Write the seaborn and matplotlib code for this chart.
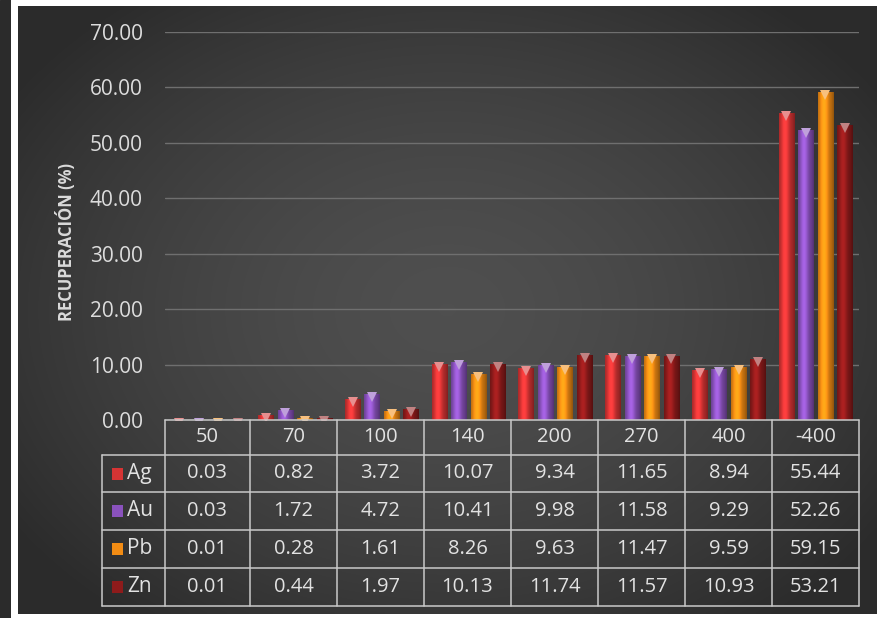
import numpy as np
import pandas as pd
import matplotlib
matplotlib.use("Agg")
import matplotlib.pyplot as plt
import matplotlib.colors as mcolors
import matplotlib.transforms as mtransforms
from matplotlib.lines import Line2D
from matplotlib.patches import Rectangle
import seaborn as sns

# ---------------- data ----------------
mallas = ["50", "70", "100", "140", "200", "270", "400", "-400"]
series_names = ["Ag", "Au", "Pb", "Zn"]
ag = [0.03, 0.82, 3.72, 10.07, 9.34, 11.65, 8.94, 55.44]
au = [0.03, 1.72, 4.72, 10.41, 9.98, 11.58, 9.29, 52.26]
pb = [0.01, 0.28, 1.61, 8.26, 9.63, 11.47, 9.59, 59.15]
zn = [0.01, 0.44, 1.97, 10.13, 11.74, 11.57, 10.93, 53.21]
y_ticks = [0, 10, 20, 30, 40, 50, 60, 70]
y_label = "RECUPERACIÓN (%)"

colors = ["#d63434", "#8a52bd", "#f28c14", "#8e1b1b"]
values = [ag, au, pb, zn]

df = pd.DataFrame({
    "malla": np.tile(mallas, len(series_names)),
    "serie": np.repeat(series_names, len(mallas)),
    "valor": np.concatenate(values),
})

sns.set_theme(style="dark")
plt.rcParams["font.family"] = ["Open Sans", "DejaVu Sans"]

W, H = 884, 618
fig = plt.figure(figsize=(W / 100, H / 100), dpi=100, facecolor="white")

# ---------------- background ----------------
strip = fig.add_axes([0, 0, 11 / W, 1])
strip.set_axis_off()
strip.add_patch(Rectangle((0, 0), 1, 1, transform=strip.transAxes, color="#2b2b2b"))

bg = fig.add_axes([18 / W, 4 / H, (877 - 18) / W, (612 - 4) / H])
bg.set_axis_off()
gx = np.linspace(-1, 1, 300)
gy = np.linspace(-1, 1, 200)
GX, GY = np.meshgrid(gx, gy)
r = np.sqrt((GX * 0.9) ** 2 + (GY * 0.85) ** 2)
lum = 0.31 - 0.12 * np.clip(r, 0, 1.4) ** 1.6
lum = np.clip(lum, 0.17, 0.31)
img = np.dstack([lum, lum, lum])
bg.imshow(img, aspect="auto", extent=[0, 1, 0, 1], interpolation="bilinear")
bg.set_xlim(0, 1)
bg.set_ylim(0, 1)

# ---------------- main axes ----------------
ax_l, ax_r, ax_t, ax_b = 165, 859, 32, 420
ax = fig.add_axes([ax_l / W, (H - ax_b) / H, (ax_r - ax_l) / W, (ax_b - ax_t) / H])
ax.set_facecolor("none")

sns.barplot(data=df, x="malla", y="valor", hue="serie", order=mallas,
            hue_order=series_names, palette=colors, width=0.9, gap=0.2,
            saturation=1, legend=False, ax=ax, zorder=3, linewidth=0)

# cylinder shading and caps
cap_shift = mtransforms.ScaledTranslation(0, -3 / 100, fig.dpi_scale_trans)
bars = [p for p in ax.patches if isinstance(p, Rectangle)]
for p in bars:
    x0 = p.get_x()
    w = p.get_width()
    h = p.get_height()
    if h <= 0:
        continue
    base = np.array(mcolors.to_rgb(p.get_facecolor()))
    t = np.linspace(0, 1, 64)
    f = 0.72 + 0.5 * np.exp(-((t - 0.38) / 0.28) ** 2)
    f = f - 0.12 * (t > 0.85) * (t - 0.85) / 0.15
    row = np.clip(base[None, :] * f[:, None], 0, 1)
    grad = row[None, :, :]
    im = ax.imshow(grad, aspect="auto", extent=[x0, x0 + w, 0, h],
                   interpolation="bilinear", zorder=3.5)
    im.set_clip_path(p)
    light = np.clip(base + (1 - base) * 0.45, 0, 1)
    ax.plot([x0 + w / 2], [h], marker="v", markersize=7.5, color=light,
            markeredgewidth=0, zorder=4, clip_on=True,
            transform=ax.transData + cap_shift)

ax.set_xlim(-0.5, len(mallas) - 0.5)
ax.set_ylim(0, 70)
ax.set_yticks(y_ticks)
ax.set_yticklabels([f"{v:.2f}" for v in y_ticks], color="#dcdcdc", fontsize=15)
ax.tick_params(axis="y", length=0, pad=16)
ax.set_xticks([])
ax.set_xlabel("")
ax.set_ylabel(y_label, color="#dadada", fontsize=12, fontweight="bold")
ax.yaxis.set_label_coords(-0.128, 0.46)
ax.grid(axis="y", color="#6f6f6f", linewidth=1, zorder=0)
ax.grid(axis="x", visible=False)
for s in ax.spines.values():
    s.set_visible(False)

# ---------------- data table ----------------
def ax_x(px):
    return (px - ax_l) / (ax_r - ax_l)

def ax_y(py):
    return (ax_b - py) / (ax_b - ax_t)

line_c = "#c9c9c9"
col_edges = [165, 250, 337, 424, 511, 598, 685, 772, 859]
row_edges = [420, 455, 492, 530, 568, 606]
lab_left = 102

def seg(x1, y1, x2, y2):
    ax.add_line(Line2D([ax_x(x1), ax_x(x2)], [ax_y(y1), ax_y(y2)],
                       transform=ax.transAxes, color=line_c, lw=1.1,
                       clip_on=False, zorder=5))

seg(col_edges[0], row_edges[0], col_edges[-1], row_edges[0])
for ry in row_edges[1:]:
    seg(lab_left, ry, col_edges[-1], ry)
for cx in col_edges:
    seg(cx, row_edges[0], cx, row_edges[-1])
seg(lab_left, row_edges[1], lab_left, row_edges[-1])

txt_c = "#e2e2e2"
for j, m in enumerate(mallas):
    cx = (col_edges[j] + col_edges[j + 1]) / 2
    cy = (row_edges[0] + row_edges[1]) / 2
    ax.text(ax_x(cx), ax_y(cy), m, transform=ax.transAxes, ha="center",
            va="center", color=txt_c, fontsize=14.5, clip_on=False)

for i, (name, vals) in enumerate(zip(series_names, values)):
    cy = (row_edges[i + 1] + row_edges[i + 2]) / 2
    for j, v in enumerate(vals):
        cx = (col_edges[j] + col_edges[j + 1]) / 2
        ax.text(ax_x(cx), ax_y(cy), f"{v:.2f}", transform=ax.transAxes,
                ha="center", va="center", color=txt_c, fontsize=14.5,
                clip_on=False)
    ax.add_patch(Rectangle((ax_x(112), ax_y(cy + 6)), 11 / (ax_r - ax_l),
                           12 / (ax_b - ax_t), transform=ax.transAxes,
                           facecolor=colors[i], edgecolor="none",
                           clip_on=False, zorder=5))
    ax.text(ax_x(127), ax_y(cy), name, transform=ax.transAxes, ha="left",
            va="center", color=txt_c, fontsize=15, clip_on=False)

fig.savefig("out.png", dpi=100, facecolor="white")
